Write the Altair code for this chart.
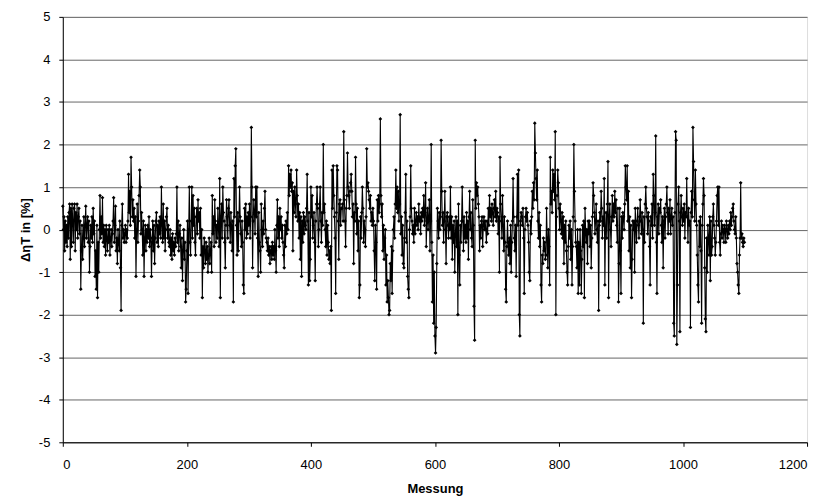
import altair as alt
import pandas as pd

row00 = [0.55, 0.0, 0.3, -0.5, 0.2, -0.3, 0.1, -0.4, 0.3, -0.2, 0.4, 0.6, -0.7, 0.5, -0.4, 0.6, 0.2, -0.3, 0.5, 0.6, -0.5, 0.4, 0.0, 0.6, -0.2, 0.3, 0.5, -0.1, 0.2, -1.4, -0.5, 0.1, -0.7, -0.2, 0.3, -0.4, 0.1, 0.55, -0.2, 0.1, 0.3, -0.3, 0.2, -1.0, -0.4, 0.1, -0.2, 0.3, -0.3, 0.5]
row01 = [-0.1, 0.2, -1.1, -0.5, -1.4, 0.1, -1.6, -0.3, -1.0, 0.0, 0.8, -0.2, 0.3, -0.1, 0.75, -0.3, 0.1, -0.4, 0.0, -0.6, 0.1, -0.2, -0.5, 0.0, -0.3, 0.1, -0.6, -0.2, 0.0, -0.4, -0.1, 0.2, 0.75, -0.3, 0.1, 0.55, -0.5, -0.2, -0.8, 0.0, -0.3, -0.5, 0.2, -0.9, -1.9, 0.1, 0.6, -0.2, 0.0, -0.3]
row02 = [-0.1, 0.1, -0.3, 0.0, -0.2, 0.2, 1.3, 0.4, 0.9, 0.1, 1.7, 1.0, 0.3, 0.7, 0.2, 0.5, -0.2, 0.3, -1.1, 0.0, 0.6, -0.3, 0.2, 0.8, 1.4, 1.0, -0.1, 0.4, 0.0, -0.6, 0.2, -1.1, -0.2, 0.1, -0.5, 0.0, -0.3, 0.1, -0.2, 0.3, -0.4, 0.0, -0.2, -1.1, -0.3, 0.2, -0.5, 0.1, -0.8, -0.2]
row03 = [0.2, 0.4, -0.3, 0.1, -0.4, 0.2, -0.1, 0.3, -0.2, 1.0, 0.1, -0.3, 0.6, -0.2, 0.2, -0.5, 0.0, 0.3, 0.5, -0.2, 0.1, -0.3, -0.4, 0.0, -0.6, -0.2, -0.7, -0.1, -0.5, -0.3, -0.6, -0.2, -0.4, -0.1, 1.0, -0.3, 0.2, -0.5, -0.1, 0.1, -0.4, -0.9, -0.2, -1.2, -0.5, 0.0, -0.7, -0.3, -1.7, -1.4]
row04 = [-0.5, 0.2, -1.5, 0.0, 1.0, -0.3, -0.6, 0.2, 1.0, -0.2, 0.8, 0.1, 0.5, -0.3, -0.6, 0.3, 0.5, -0.1, 0.7, 0.2, 0.4, -0.2, 0.5, -0.6, 0.0, -1.6, -0.4, -0.9, -0.2, -0.5, -0.8, -0.3, -0.7, -0.4, -1.0, -0.6, -0.2, -0.8, -0.5, -0.3, -1.0, 0.8, -0.1, 0.3, -0.4, 0.7, 0.2, -0.3, 0.1, -0.2]
row05 = [0.5, 0.0, -0.4, 1.2, -1.6, 0.3, 0.6, -0.2, 1.0, 0.4, 0.2, -0.3, -0.9, 0.1, 0.7, 0.3, -0.2, 0.5, 0.7, 0.1, -0.3, 0.4, 0.1, -0.5, 0.2, -1.7, 1.2, 0.3, 1.5, 1.9, 0.1, -0.6, 0.4, -0.5, 0.2, 1.0, 0.3, -0.1, -0.4, 0.2, -0.3, -1.3, -1.5, 0.5, 0.0, 0.6, -0.2, 0.3, -0.1, 0.4]
row06 = [0.1, 0.6, -0.2, 0.3, 2.4, 1.0, -0.9, 0.2, 0.7, 0.4, -0.1, 1.0, 0.3, 1.0, -0.2, -1.1, 0.4, -0.3, -0.5, -1.0, 0.6, 0.0, -0.4, 0.2, -0.1, 0.5, 0.9, 0.0, -0.2, -0.3, -0.5, -0.2, -0.6, -0.4, -0.8, -0.5, -0.4, -0.7, -0.3, -0.6, -0.4, -0.7, 0.0, -0.5, -1.0, 0.1, 0.7, -0.2, 0.3, -0.4]
row07 = [0.5, 0.0, 0.3, -0.2, 0.1, -0.3, -0.6, -0.9, 0.1, -0.4, 0.2, -0.1, 0.4, 0.0, 1.5, 0.8, 1.3, 1.0, 1.4, 0.9, 1.1, -0.5, 0.9, 0.4, 1.0, 0.6, 0.3, 1.4, 0.8, 0.2, 0.6, -0.2, 0.4, -0.7, 0.3, -1.1, 0.2, -0.3, 0.4, -0.1, 0.3, 0.1, 0.0, 0.5, 1.3, 0.2, -1.3, 0.4, -1.2, -0.7]
row08 = [1.0, 0.3, 0.8, -0.2, 0.1, 0.4, -0.3, -1.2, 0.2, 0.6, 1.0, 0.5, -0.4, 0.0, 0.6, 1.0, 0.2, -0.3, 0.4, 0.1, 2.0, 0.4, 0.6, 0.0, -0.4, 0.2, -0.6, 0.1, -0.3, -0.7, -0.5, -0.8, -0.4, -1.9, 1.4, 0.5, 1.5, 0.8, 0.3, -0.2, -1.5, 0.4, 1.5, 1.4, 0.2, -0.7, 0.6, 0.7, 0.1, 0.5]
row09 = [0.5, 0.6, 0.2, 2.3, 0.7, 0.2, -0.4, 0.5, 0.8, 1.8, 1.0, 0.8, 0.5, 0.9, 1.1, 1.3, 0.9, 0.3, 0.6, -0.8, 0.4, 0.2, 1.7, 0.6, -0.1, 0.5, -0.5, 0.2, -1.6, -1.3, 0.3, -0.2, 0.4, 1.0, 0.5, -0.3, 0.2, 0.0, -0.4, 0.3, 1.9, 1.0, 1.1, 0.9, 0.7, 0.5, 0.8, 0.2, 0.4, 0.1]
row10 = [0.5, 0.2, -0.5, -1.2, 0.1, -0.3, -1.4, 0.7, 0.2, 0.8, 0.4, 0.6, 2.6, 0.8, 0.3, 0.6, -0.5, 0.1, -0.7, -0.2, 0.0, -1.3, -0.6, -1.7, -1.2, -1.6, -2.0, -1.9, -0.8, -1.2, -0.4, -1.5, -0.5, 0.0, 0.3, -0.2, 0.6, 1.4, 0.5, 1.0, 0.4, 0.9, 0.2, 0.6, 2.7, -0.1, 0.3, -0.6, 0.1, -0.8]
row11 = [-0.9, -0.2, 0.4, 1.3, -0.3, 0.2, -1.1, -1.4, -1.6, 0.0, 0.3, 1.5, 0.5, 0.2, -0.1, 0.1, -0.3, 0.5, -0.1, 0.2, 0.4, 0.1, 0.3, 0.0, 0.6, 0.2, 0.3, -0.1, 0.4, 0.2, 0.5, 0.3, 0.8, 0.1, 0.4, 1.1, -0.4, 0.2, 0.5, 0.0, 0.3, 0.7, -0.5, 0.2, 2.0, -0.3, -1.7, -0.6, -2.2, -1.0]
row12 = [-2.5, -2.9, -2.3, -0.8, 0.5, 0.2, -0.2, 0.4, 0.0, 0.3, 2.1, 0.9, 0.1, 0.4, -0.3, 0.2, 0.9, 0.0, -0.8, 0.3, 0.4, 0.1, -0.2, 0.3, 0.0, 1.0, -0.2, 0.3, -0.7, 0.1, -0.3, 0.2, -1.0, -0.1, 0.3, -0.4, 0.2, -2.0, 0.6, -0.6, -1.3, 0.1, -0.3, 0.2, 1.0, 0.2, -0.5, 0.3, -0.2, 0.1]
row13 = [-0.3, 0.4, -0.2, 0.2, -0.7, 0.3, 0.9, 0.0, 0.4, -0.2, -0.4, 0.7, 0.1, -1.8, -2.6, 2.1, 0.5, 1.1, 0.8, 1.0, 0.6, 0.3, -0.5, 0.1, -0.2, 0.2, 0.3, -0.4, 0.1, 0.3, 0.0, 0.2, 0.0, -0.3, 0.2, -0.1, 0.5, 0.1, 0.8, 0.3, 0.5, 0.2, 0.6, 0.4, 0.1, 0.5, 0.7, 0.3, 0.9, 0.2]
row14 = [0.5, 0.4, -0.1, 0.3, -1.0, 1.7, 0.6, 0.2, -0.2, 0.8, 0.1, -0.5, 0.3, -0.3, -1.4, -1.7, -0.4, 0.2, -0.3, -0.6, -0.2, -0.8, 0.1, -1.0, -0.3, 0.2, 1.2, 0.3, -0.2, -0.5, 0.1, -1.1, 0.3, 1.3, 0.1, 1.4, -2.0, -2.5, 0.2, 0.4, 0.3, 0.1, 0.5, -0.2, -1.5, 0.0, 0.3, 0.5, 0.2, 0.4]
row15 = [0.1, -0.3, -1.0, -1.2, 0.2, -0.1, 0.3, 0.9, 0.5, 1.1, 0.7, 2.5, 1.8, 1.2, 0.7, 1.4, 0.2, -0.2, 0.4, -0.4, 0.1, -1.3, -1.7, -0.6, -0.8, -0.2, -0.5, -0.3, -0.7, -0.6, 0.5, -0.2, -0.9, 0.0, -0.4, -1.3, 1.7, 0.6, 0.9, 0.4, 1.4, 0.9, 1.3, 0.7, 2.3, -2.0, 0.3, 0.8, 1.4, 1.1]
row16 = [0.5, 0.0, 0.6, 0.2, -0.1, 0.4, -0.2, 0.3, -0.8, 0.1, -0.3, 0.2, -0.5, -1.0, -1.3, -0.4, 0.1, -0.2, 0.2, -0.7, 0.0, -1.3, -0.4, 0.3, 2.0, 0.9, 0.2, -0.3, -0.4, -0.9, 0.0, -1.5, -0.3, -1.3, 0.0, -0.5, -1.5, -0.7, 0.1, -0.4, 0.2, -1.6, 0.5, 0.0, -0.3, 0.0, -0.8, 0.2, -0.1, 0.2]
row17 = [-0.4, 0.1, -0.9, -0.2, 0.3, 1.1, 0.8, 0.4, -0.1, 0.2, 0.6, 0.0, -0.3, 0.2, -1.9, 0.1, 0.4, 0.2, 0.9, 0.5, -0.2, 0.3, 0.1, 1.2, -1.3, 0.0, 0.4, -0.2, 0.6, 1.6, -1.6, 0.3, 0.6, 0.0, -0.4, 0.3, 0.8, 0.2, 0.6, 0.3, 0.9, 0.4, 0.7, 0.1, -0.3, 0.5, -1.7, -0.8, 0.5, -0.5]
row18 = [-1.5, 0.3, -0.2, 0.4, 0.3, 0.0, 0.6, 1.5, 1.0, 0.7, 1.5, 0.2, 0.9, -0.5, 0.3, -0.9, 0.1, -1.6, -0.7, 0.2, 0.0, 0.2, -1.0, 0.5, 0.1, -0.3, 0.2, 0.5, 0.1, -0.2, 0.3, 0.7, 0.2, -0.1, 0.4, 0.0, -2.2, 0.3, -0.3, 0.6, 1.0, 0.5, 0.3, -0.1, 0.4, 0.2, -0.4, -1.3, 0.3, 0.1]
row19 = [0.6, -0.2, 1.3, 0.8, 0.1, 0.4, 2.2, -0.3, -1.5, 0.3, 0.6, -0.1, 0.5, 0.4, 0.7, 0.1, -0.3, 0.3, -0.9, 0.2, 0.5, -0.2, 0.3, 0.6, 1.0, 0.4, -0.1, 0.5, 0.2, 0.7, -0.1, 0.3, 0.5, 0.1, 0.3, -2.2, -2.5, 0.4, 2.3, 2.1, -2.7, -1.3, 0.6, 1.0, 0.2, -2.4, 0.4, 0.8, 0.3, 0.1]
row20 = [0.5, 0.2, 0.6, -0.2, 0.4, 0.3, 1.2, 0.3, -0.3, 0.5, 0.1, 0.2, -2.3, 0.4, 0.9, 0.3, 2.4, 1.6, 0.7, 0.2, 1.4, 0.6, 0.1, -0.6, -1.3, -1.7, 0.2, -0.4, 0.3, -0.5, -2.2, 0.1, 0.6, 1.2, 0.8, -0.9, -2.1, -2.4, -0.2, -1.0, 0.1, -0.2, -0.6, 0.3, -1.2, 0.2, -0.6, -0.4, 0.3, 0.6]
row21 = [0.1, -0.2, -0.6, -0.3, 0.2, 0.8, 1.0, 0.1, 1.0, -0.3, -0.6, -0.1, 0.2, -0.2, 0.1, 0.0, -0.3, 0.1, 0.0, -0.3, 0.2, 0.0, -0.2, 0.1, -0.1, 0.2, 0.0, 0.4, 0.1, 0.3, 0.5, 0.6, 0.2, 0.0, -0.1, 0.3, -0.2, -0.8, -1.0, -1.3, -1.5, -0.6, -0.2, 1.1, -0.2, -0.1, -0.3, -0.4, -0.2, -0.3]

rows = [row00, row01, row02, row03, row04, row05, row06, row07, row08, row09, row10,
        row11, row12, row13, row14, row15, row16, row17, row18, row19, row20, row21]
values = [v for r in rows for v in r]
messung = list(range(len(values)))

x_ticks = [0, 200, 400, 600, 800, 1000, 1200]
y_ticks = [-5, -4, -3, -2, -1, 0, 1, 2, 3, 4, 5]

df = pd.DataFrame({"Messung": messung, "d": values})

FONT = "Liberation Sans"

x = alt.X("Messung:Q", scale=alt.Scale(domain=[0, 1200], nice=False),
          axis=alt.Axis(values=x_ticks, title="Messung", grid=False, tickSize=4,
                        labelExpr="datum.value",
                        labelPadding=12, titlePadding=11, labelFontSize=13,
                        titleFontSize=13, titleFontWeight="bold", labelFont=FONT, titleFont=FONT,
                        domainColor="black", tickColor="black", labelColor="black", titleColor="black"))
y = alt.Y("d:Q", scale=alt.Scale(domain=[-5, 5], nice=False),
          axis=alt.Axis(values=y_ticks, title="ΔηT in [%]", grid=True, gridColor="#666666",
                        gridWidth=1, tickSize=4, labelPadding=9, titlePadding=6,
                        labelExpr="datum.value",
                        labelFontSize=13, titleFontSize=13, titleFontWeight="bold",
                        labelFont=FONT, titleFont=FONT, domainColor="black", tickColor="black",
                        labelColor="black", titleColor="black"))

base = alt.Chart(df)
line = base.mark_line(color="black", strokeWidth=1.1).encode(x=x, y=y)
pts = base.mark_point(shape="diamond", filled=True, color="black", size=14, opacity=1).encode(x=x, y=y)

chart = (line + pts).properties(
    width=747, height=427,
    autosize=alt.AutoSizeParams(type="none"),
    padding={"left": 55, "top": 8, "right": 15, "bottom": 53},
).configure_view(stroke="black", strokeWidth=1).configure(background="white")

chart.save("out.html", embed_options={"renderer": "svg", "actions": False})
